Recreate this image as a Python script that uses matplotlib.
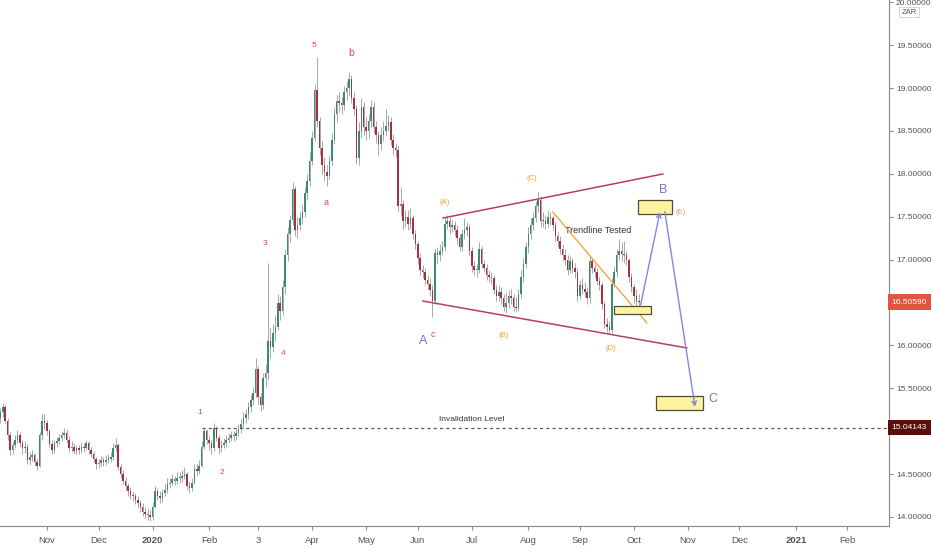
"""USD/ZAR daily chart with Elliott wave count (TradingView style)."""
import matplotlib
matplotlib.use("Agg")
import matplotlib.pyplot as plt
import matplotlib.transforms as mtransforms
from matplotlib.patches import Rectangle, FancyArrowPatch
import numpy as np
import pandas as pd

plt.rcParams["font.family"] = ["Liberation Sans", "DejaVu Sans"]

# daily bars, first bar 2019-10-07, business days
START = "2019-10-07"
FIRST_OPEN = 15.15
CLOSE = [
    15.22, 15.28, 15.12, 14.95, 14.78, 14.84, 14.90, 14.96, 14.86, 14.80,
    14.82, 14.66, 14.70, 14.72, 14.64, 14.60, 14.95, 15.12, 15.10, 15.00,
    14.85, 14.78, 14.86, 14.88, 14.92, 14.95, 14.98, 14.90, 14.80, 14.82,
    14.77, 14.80, 14.78, 14.82, 14.80, 14.86, 14.78, 14.74, 14.68, 14.62,
    14.63, 14.66, 14.64, 14.67, 14.68, 14.70, 14.80, 14.84, 14.58, 14.50,
    14.42, 14.36, 14.30, 14.26, 14.24, 14.20, 14.16, 14.12, 14.06, 14.04,
    14.02, 14.00, 14.12, 14.30, 14.25, 14.22, 14.28, 14.32, 14.38, 14.40,
    14.44, 14.42, 14.46, 14.45, 14.48, 14.50, 14.36, 14.34, 14.40, 14.56,
    14.54, 14.60, 14.82, 15.00, 14.90, 14.86, 14.80, 15.04, 14.92, 14.80,
    14.84, 14.86, 14.90, 14.92, 14.95, 14.94, 14.98, 15.02, 15.08, 15.15,
    15.20, 15.28, 15.36, 15.45, 15.72, 15.40, 15.30, 15.62, 15.68, 16.05,
    15.98, 16.15, 16.22, 16.50, 16.40, 16.68, 17.05, 17.30, 17.46, 17.82,
    17.35, 17.40, 17.48, 17.55, 17.78, 17.92, 18.15, 18.42, 18.98, 18.62,
    18.30, 18.10, 18.02, 17.98, 18.15, 18.40, 18.70, 18.85, 18.82, 18.80,
    18.95, 19.00, 19.10, 18.88, 18.75, 18.18, 18.50, 18.78, 18.55, 18.50,
    18.62, 18.78, 18.55, 18.45, 18.35, 18.45, 18.50, 18.56, 18.60, 18.40,
    18.30, 18.28, 17.62, 17.65, 17.45, 17.50, 17.42, 17.48, 17.30, 17.18,
    17.02, 16.88, 16.85, 16.76, 16.72, 16.65, 16.52, 17.08, 17.05, 17.10,
    17.15, 17.42, 17.45, 17.38, 17.40, 17.35, 17.25, 17.15, 17.30, 17.35,
    17.38, 17.10, 16.92, 16.88, 16.88, 17.12, 16.95, 16.90, 16.82, 16.80,
    16.78, 16.65, 16.58, 16.62, 16.55, 16.45, 16.50, 16.58, 16.55, 16.45,
    16.44, 16.60, 16.80, 16.95, 17.15, 17.30, 17.40, 17.48, 17.62, 17.70,
    17.45, 17.45, 17.42, 17.50, 17.48, 17.40, 17.28, 17.22, 17.12, 17.05,
    17.00, 16.88, 16.98, 16.90, 16.85, 16.58, 16.70, 16.66, 16.62, 16.55,
    16.98, 16.90, 16.86, 16.75, 16.70, 16.48, 16.25, 16.22, 16.18, 16.72,
    16.85, 17.05, 17.10, 17.06, 17.05, 17.00, 16.80, 16.68, 16.58, 16.52,
    16.5059,
]
HIGH = [
    15.27, 15.33, 15.30, 15.15, 14.99, 14.89, 14.95, 15.01, 14.99, 14.90,
    14.88, 14.85, 14.76, 14.78, 14.75, 14.68, 14.99, 15.21, 15.20, 15.13,
    15.02, 14.90, 14.90, 14.93, 14.97, 15.00, 15.04, 15.02, 14.94, 14.88,
    14.86, 14.84, 14.84, 14.87, 14.86, 14.90, 14.89, 14.82, 14.77, 14.70,
    14.68, 14.71, 14.70, 14.72, 14.73, 14.76, 14.86, 14.92, 14.86, 14.62,
    14.55, 14.47, 14.40, 14.35, 14.30, 14.28, 14.25, 14.20, 14.16, 14.12,
    14.10, 14.08, 14.18, 14.36, 14.34, 14.30, 14.33, 14.40, 14.45, 14.46,
    14.50, 14.48, 14.52, 14.53, 14.55, 14.58, 14.53, 14.42, 14.46, 14.62,
    14.62, 14.66, 14.88, 15.04, 15.02, 14.95, 14.90, 15.10, 15.06, 14.95,
    14.90, 14.92, 14.95, 14.98, 15.00, 15.00, 15.03, 15.08, 15.14, 15.22,
    15.26, 15.34, 15.42, 15.52, 15.85, 15.76, 15.45, 15.68, 15.78, 16.96,
    16.20, 16.25, 16.35, 16.60, 16.58, 16.76, 17.12, 17.38, 17.52, 17.90,
    17.86, 17.50, 17.56, 17.64, 17.85, 18.00, 18.25, 18.50, 19.05, 19.36,
    18.66, 18.38, 18.20, 18.10, 18.22, 18.48, 18.78, 18.92, 18.95, 18.90,
    19.02, 19.08, 19.19, 19.15, 18.95, 18.80, 18.60, 18.88, 18.84, 18.66,
    18.70, 18.86, 18.84, 18.62, 18.50, 18.55, 18.62, 18.75, 18.68, 18.66,
    18.46, 18.36, 18.34, 17.85, 17.70, 17.58, 17.58, 17.60, 17.52, 17.34,
    17.22, 17.08, 16.94, 16.90, 16.82, 16.78, 16.70, 17.12, 17.15, 17.18,
    17.22, 17.48, 17.52, 17.50, 17.46, 17.45, 17.40, 17.30, 17.36, 17.48,
    17.44, 17.42, 17.15, 16.98, 16.95, 17.20, 17.16, 17.00, 16.95, 16.88,
    16.86, 16.82, 16.70, 16.70, 16.68, 16.60, 16.62, 16.64, 16.66, 16.60,
    16.56, 16.66, 16.88, 17.02, 17.20, 17.38, 17.48, 17.56, 17.68, 17.79,
    17.74, 17.55, 17.52, 17.58, 17.56, 17.52, 17.44, 17.32, 17.28, 17.18,
    17.12, 17.05, 17.04, 17.02, 16.96, 16.90, 16.76, 16.78, 16.74, 16.68,
    17.04, 17.02, 16.95, 16.90, 16.80, 16.74, 16.52, 16.32, 16.28, 16.78,
    16.92, 17.12, 17.24, 17.20, 17.22, 17.10, 17.02, 16.84, 16.72, 16.66,
    16.60,
]
LOW = [
    15.10, 15.17, 15.08, 14.90, 14.72, 14.74, 14.80, 14.86, 14.81, 14.74,
    14.75, 14.62, 14.61, 14.65, 14.60, 14.55, 14.58, 14.90, 15.03, 14.96,
    14.82, 14.74, 14.75, 14.82, 14.85, 14.89, 14.92, 14.86, 14.76, 14.76,
    14.73, 14.74, 14.74, 14.75, 14.76, 14.78, 14.74, 14.70, 14.64, 14.56,
    14.57, 14.59, 14.60, 14.61, 14.63, 14.64, 14.67, 14.77, 14.55, 14.46,
    14.38, 14.31, 14.25, 14.21, 14.19, 14.15, 14.11, 14.06, 14.01, 13.99,
    13.96, 13.95, 13.97, 14.10, 14.20, 14.16, 14.18, 14.24, 14.28, 14.34,
    14.37, 14.37, 14.38, 14.40, 14.41, 14.44, 14.32, 14.28, 14.30, 14.38,
    14.48, 14.50, 14.58, 14.79, 14.85, 14.78, 14.74, 14.77, 14.88, 14.74,
    14.76, 14.80, 14.82, 14.86, 14.88, 14.89, 14.90, 14.94, 14.98, 15.04,
    15.10, 15.14, 15.22, 15.30, 15.40, 15.32, 15.24, 15.26, 15.52, 15.60,
    15.85, 15.92, 16.05, 16.18, 16.30, 16.35, 16.60, 16.98, 17.20, 17.40,
    17.28, 17.25, 17.34, 17.42, 17.50, 17.70, 17.86, 18.10, 18.38, 18.55,
    18.22, 18.00, 17.92, 17.86, 17.94, 18.10, 18.35, 18.60, 18.72, 18.70,
    18.74, 18.86, 18.92, 18.82, 18.68, 18.12, 18.10, 18.42, 18.45, 18.40,
    18.42, 18.55, 18.48, 18.36, 18.22, 18.28, 18.38, 18.44, 18.50, 18.34,
    18.22, 18.20, 17.55, 17.52, 17.36, 17.38, 17.34, 17.36, 17.24, 17.12,
    16.95, 16.82, 16.78, 16.70, 16.64, 16.58, 16.33, 16.48, 16.96, 16.98,
    17.05, 17.10, 17.36, 17.30, 17.32, 17.28, 17.18, 17.10, 17.10, 17.24,
    17.28, 17.05, 16.86, 16.82, 16.80, 16.84, 16.90, 16.85, 16.76, 16.74,
    16.72, 16.60, 16.52, 16.52, 16.48, 16.40, 16.38, 16.44, 16.48, 16.40,
    16.39, 16.40, 16.55, 16.74, 16.90, 17.08, 17.24, 17.34, 17.44, 17.56,
    17.38, 17.38, 17.36, 17.38, 17.40, 17.34, 17.22, 17.15, 17.06, 16.98,
    16.94, 16.82, 16.84, 16.84, 16.78, 16.52, 16.54, 16.60, 16.56, 16.48,
    16.50, 16.84, 16.80, 16.70, 16.64, 16.42, 16.20, 16.16, 16.14, 16.15,
    16.68, 16.80, 17.00, 16.98, 16.96, 16.94, 16.74, 16.62, 16.50, 16.46,
    16.45,
]

LAST_PRICE = 16.50590
INVALIDATION = 15.04143

MONTH_STARTS = ["2019-11-01", "2019-12-01", "2020-01-01", "2020-02-01", "2020-03-01",
                "2020-04-01", "2020-05-01", "2020-06-01", "2020-07-01", "2020-08-01",
                "2020-09-01", "2020-10-01", "2020-11-01", "2020-12-01", "2021-01-01",
                "2021-02-01"]
MONTH_LABELS = ["Nov", "Dec", "2020", "Feb", "3", "Apr", "May", "Jun", "Jul", "Aug",
                "Sep", "Oct", "Nov", "Dec", "2021", "Feb"]
Y_TICKS = [14.0, 14.5, 15.0, 15.5, 16.0, 16.5, 17.0, 17.5, 18.0, 18.5, 19.0, 19.5, 20.0]
# these two sit under the price tags on the scale
Y_HIDDEN = [15.0, 16.5]

# wave labels: (text, bar, price, colour, size)
WAVE_RED = "#e0445c"
WAVE_ORANGE = "#f0a030"
WAVE_BLUE = "#7474cc"
LABELS = [
    ("5", 127.7, 19.50, WAVE_RED, 6),
    ("b", 142.8, 19.41, WAVE_RED, 7.5),
    ("a", 132.6, 17.66, WAVE_RED, 6.5),
    ("3", 107.8, 17.19, WAVE_RED, 6),
    ("4", 115.1, 15.90, WAVE_RED, 6),
    ("1", 81.3, 15.22, WAVE_RED, 6),
    ("2", 90.3, 14.52, WAVE_RED, 6),
    ("c", 176.2, 16.13, WAVE_RED, 6.5),
    ("A", 172.1, 16.05, WAVE_BLUE, 9),
    ("(A)", 181.1, 17.67, WAVE_ORANGE, 5.5),
    ("(B)", 205.1, 16.11, WAVE_ORANGE, 5.5),
    ("(C)", 216.5, 17.94, WAVE_ORANGE, 5.5),
    ("(D)", 248.7, 15.96, WAVE_ORANGE, 5.5),
    ("(E)", 277.2, 17.55, WAVE_ORANGE, 5.5),
    ("B", 269.8, 17.81, WAVE_BLUE, 9),
    ("C", 290.2, 15.38, WAVE_BLUE, 9),
]


def draw():
    n = len(CLOSE)
    dates = pd.bdate_range(START, periods=400)
    idx = np.arange(n)
    close = np.array(CLOSE)
    opn = np.concatenate([[FIRST_OPEN], close[:-1]])
    high = np.array(HIGH)
    low = np.array(LOW)

    fig = plt.figure(figsize=(9.32, 5.5), dpi=100)
    ax = fig.add_axes([0, 24 / 550, 889 / 932, 526 / 550])

    up = close >= opn
    green, red = "#3b8c6e", "#a8303a"
    ax.vlines(idx, low, high, color="#a8a8a8", lw=0.7, zorder=2)
    body = np.maximum(np.abs(close - opn), 0.012)
    ax.bar(idx[up], body[up], bottom=np.minimum(opn, close)[up], width=0.62,
           color=green, zorder=3, linewidth=0)
    ax.bar(idx[~up], body[~up], bottom=np.minimum(opn, close)[~up], width=0.62,
           color=red, zorder=3, linewidth=0)

    # triangle / channel lines
    ax.plot([180.3, 269.8], [17.485, 17.998], color="#b4405e", lw=1.1, zorder=4)
    ax.plot([172.1, 279.6], [16.517, 15.970], color="#b4405e", lw=1.1, zorder=4)
    ax.plot([225.0, 263.3], [17.555, 16.261], color="#f0a030", lw=0.9, zorder=4)

    # target boxes
    for x0, x1, y0, y1 in [(249.9, 264.8, 16.363, 16.463),
                           (259.8, 273.7, 17.531, 17.695),
                           (266.9, 286.0, 15.247, 15.410)]:
        ax.add_patch(Rectangle((x0, y0), x1 - x0, y1 - y0, facecolor="#fbf3a0",
                               edgecolor="#4d4d3a", lw=0.9, zorder=5))

    # projected path
    for (xa, ya), (xb, yb) in [((260.75, 16.471), (268.6, 17.551)),
                               ((270.6, 17.558), (282.9, 15.286))]:
        ax.add_patch(FancyArrowPatch((xa, ya), (xb, yb), arrowstyle="->,head_length=3,head_width=1.6",
                                     color="#8585e0", lw=1.0, zorder=6,
                                     shrinkA=0, shrinkB=0))

    # invalidation level
    ax.plot([82.1, 400], [INVALIDATION, INVALIDATION], color="#5a5a5a", lw=0.9,
            ls=(0, (2.5, 2.5)), zorder=4)
    ax.text(192.1, 15.131, "Invalidation Level", fontsize=6, color="#333333",
            ha="center", va="center")
    ax.text(243.4, 17.345, "Trendline Tested", fontsize=6.5, color="#333333",
            ha="center", va="center")

    for txt, x, y, col, fs in LABELS:
        ax.text(x, y, txt, color=col, fontsize=fs, ha="center", va="center", zorder=7)

    ax.set_xlim(-0.12, 361.9)
    ax.set_ylim(13.895, 20.026)

    # axes styling like the trading terminal
    for s in ("top", "left"):
        ax.spines[s].set_visible(False)
    ax.spines["right"].set_color("#8a8a8a")
    ax.spines["bottom"].set_color("#8a8a8a")

    pos = [int(dates.searchsorted(pd.Timestamp(d))) for d in MONTH_STARTS]
    ax.set_xticks(pos)
    ax.set_xticklabels(MONTH_LABELS)
    for lab in ax.get_xticklabels():
        if lab.get_text() in ("2020", "2021"):
            lab.set_fontweight("bold")
    ax.tick_params(axis="x", length=3, color="#8a8a8a", labelsize=6.8,
                   labelcolor="#555555", pad=4)

    ax.yaxis.tick_right()
    ax.set_yticks(Y_TICKS)
    ax.set_yticklabels(["" if v in Y_HIDDEN else f"{v:.5f}" for v in Y_TICKS])
    ax.tick_params(axis="y", length=3, color="#8a8a8a", labelsize=6.0,
                   labelcolor="#555555", pad=2)

    trans = mtransforms.blended_transform_factory(ax.transAxes, ax.transData)
    ax.text(1.003, LAST_PRICE, f"{LAST_PRICE:.5f}", transform=trans, fontsize=6.0,
            color="white", ha="left", va="center", clip_on=False, zorder=10,
            bbox=dict(boxstyle="square,pad=0.5", facecolor="#de5544", edgecolor="none"))
    ax.text(1.003, INVALIDATION, f"{INVALIDATION:.5f}", transform=trans, fontsize=6.0,
            color="white", ha="left", va="center", clip_on=False, zorder=10,
            bbox=dict(boxstyle="square,pad=0.5", facecolor="#5a0f0c", edgecolor="none"))

    fig.text(909 / 932, 1 - 12 / 550, "ZAR", fontsize=5.5, color="#555555",
             ha="center", va="center",
             bbox=dict(boxstyle="square,pad=0.25", facecolor="white", edgecolor="#d0d0d0", lw=0.6))

    fig.savefig("out.png", dpi=100, facecolor="white")
    plt.close(fig)


if __name__ == "__main__":
    draw()
